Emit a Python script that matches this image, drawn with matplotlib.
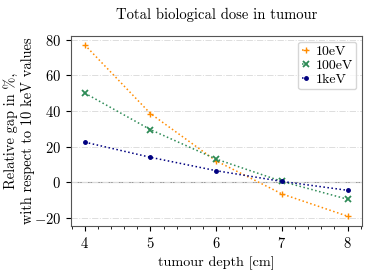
import numpy as np
import matplotlib
matplotlib.use("Agg")
import matplotlib.pyplot as plt

plt.rcParams['font.family'] = ['cmr10', 'DejaVu Serif']
plt.rcParams['mathtext.fontset'] = 'cm'
plt.rcParams['axes.formatter.use_mathtext'] = True
plt.rcParams['font.size'] = 10

depth = [4, 5, 6, 7, 8]
gap_10ev = [77, 38.5, 12, -6.5, -19]
gap_100ev = [50, 29.5, 13, 0.5, -9.5]
gap_1kev = [22.5, 14, 6.5, 0.5, -4.5]

fig = plt.figure(figsize=(3.74, 2.72), dpi=100)
ax = fig.add_axes([71/374, 1 - 226/272, 291/374, 190/272])

ax.plot(depth, gap_10ev, ':', marker='+', color='darkorange', lw=1.1, ms=5, label='10eV')
ax.plot(depth, gap_100ev, ':', marker='x', color='seagreen', lw=1.1, ms=4.5, mew=1.3, label='100eV')
ax.plot(depth, gap_1kev, ':', marker='.', color='navy', lw=1.1, ms=5, label='1keV')

ax.axhline(0, color='#999999', lw=0.8, zorder=0)
ax.grid(axis='y', ls='-.', color='#dddddd', lw=0.7)
ax.set_axisbelow(True)

ax.set_xlim(3.79, 8.22)
ax.set_ylim(-24.5, 82)
ax.set_xticks(depth)
ax.set_xticks(np.arange(3.8, 8.21, 0.2), minor=True)
ax.set_yticks([-20, 0, 20, 40, 60, 80])
ax.tick_params(axis='x', which='minor', length=2)
ax.tick_params(labelsize=10.5)

for s in ax.spines.values():
    s.set_color('#555555')

ax.set_xlabel('tumour depth [cm]', fontsize=10.2)
ax.set_ylabel('Relative gap in %,\nwith respect to 10 keV values', fontsize=10.4)
ax.yaxis.set_label_coords(-0.125, 0.5)
ax.set_title('Total biological dose in tumour', fontsize=10.5, pad=12)
ax.legend(loc='upper right', fontsize=10, handlelength=0.6, handletextpad=0.4,
          borderpad=0.25, labelspacing=0.1, borderaxespad=0.4)

fig.savefig('out.png', dpi=100)
